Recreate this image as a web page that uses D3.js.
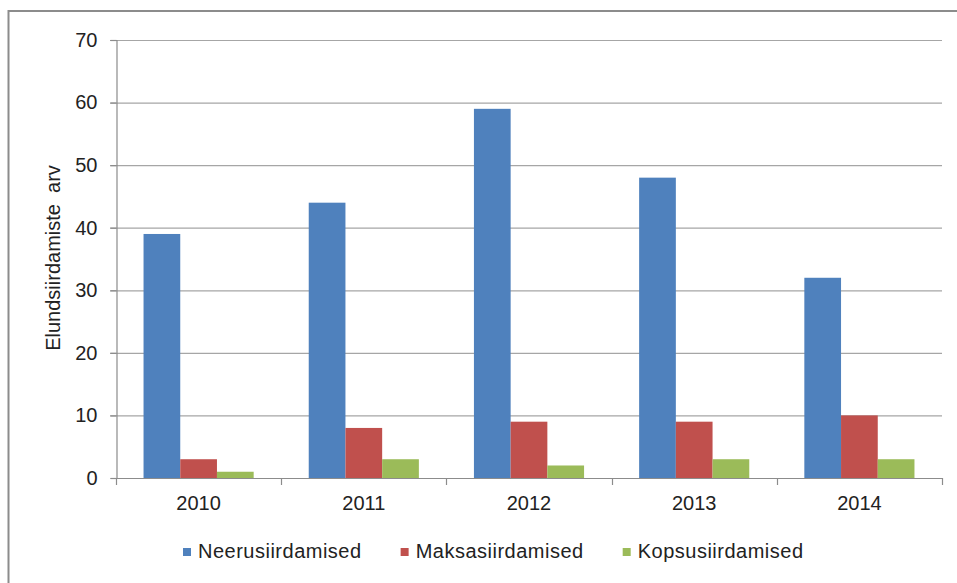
<!DOCTYPE html>
<html>
<head>
<meta charset="utf-8">
<script src="https://cdn.jsdelivr.net/npm/d3@7"></script>
<style>
  html, body { margin: 0; padding: 0; background: #fff; }
  svg { display: block; font-family: "Liberation Sans", Arial, sans-serif; }
</style>
</head>
<body>
<svg id="chart" width="957" height="583"></svg>
<script>
// data
const years = ["2010", "2011", "2012", "2013", "2014"];
const seriesNames = ["Neerusiirdamised", "Maksasiirdamised", "Kopsusiirdamised"];
const neerud = [39, 44, 59, 48, 32];
const maks = [3, 8, 9, 9, 10];
const kopsud = [1, 3, 2, 3, 3];
const yTicks = [0, 10, 20, 30, 40, 50, 60, 70];
const colors = ["#4F81BD", "#C0504D", "#9BBB59"];
const seriesValues = [neerud, maks, kopsud];

const svg = d3.select("#chart");
const plot = { left: 116, right: 942, top: 40, bottom: 478 };

// outer frame (cut off at right and bottom like the screenshot)
svg.append("rect")
    .attr("x", 8.5).attr("y", 11)
    .attr("width", 1000).attr("height", 1000)
    .attr("fill", "none").attr("stroke", "#8c8c8c").attr("stroke-width", 2);

const x = d3.scaleBand().domain(years).range([plot.left, plot.right]);
// gap width 150%: outer padding of 0.75 bar on each side
const x1 = d3.scaleBand().domain(d3.range(3))
    .range([0, x.bandwidth()]).paddingOuter(0.75).paddingInner(0);
const y = d3.scaleLinear().domain([0, 70]).range([plot.bottom, plot.top]);

// gridlines
svg.append("g")
    .selectAll("line")
    .data(yTicks.filter(d => d > 0))
    .join("line")
    .attr("x1", plot.left - 6).attr("x2", plot.right)
    .attr("y1", d => y(d) + 0.5).attr("y2", d => y(d) + 0.5)
    .attr("stroke", "#a6a6a6").attr("stroke-width", 1.2);

// y axis
const yAxis = svg.append("g")
    .attr("transform", `translate(${plot.left + 0.5},0)`)
    .call(d3.axisLeft(y).tickValues(yTicks).tickSize(6).tickPadding(13));
yAxis.select(".domain").attr("stroke", "#8c8c8c").attr("stroke-width", 1.2);
yAxis.selectAll(".tick line").attr("stroke", "#8c8c8c").attr("stroke-width", 1.2);
yAxis.selectAll(".tick text")
    .attr("font-size", 20).attr("fill", "#222")
    .attr("font-family", "Liberation Sans, Arial, sans-serif");

// bars
const groups = svg.append("g")
    .selectAll("g")
    .data(years)
    .join("g")
    .attr("transform", d => `translate(${x(d)},0)`);

groups.selectAll("rect")
    .data((d, i) => seriesValues.map((s, k) => ({ k, v: s[i] })))
    .join("rect")
    .attr("x", d => x1(d.k))
    .attr("width", x1.bandwidth())
    .attr("y", d => y(d.v))
    .attr("height", d => y(0) - y(d.v))
    .attr("fill", d => colors[d.k]);

// x axis
const xAxis = svg.append("g")
    .attr("transform", `translate(0,${plot.bottom + 0.5})`)
    .call(d3.axisBottom(x).tickSize(0).tickPadding(17));
xAxis.select(".domain").remove();
xAxis.selectAll(".tick text")
    .attr("font-size", 20).attr("fill", "#222")
    .attr("font-family", "Liberation Sans, Arial, sans-serif");
svg.append("line")
    .attr("x1", plot.left).attr("x2", plot.right + 0.5)
    .attr("y1", plot.bottom + 0.5).attr("y2", plot.bottom + 0.5)
    .attr("stroke", "#8c8c8c").attr("stroke-width", 1.2);
svg.append("g")
    .selectAll("line")
    .data(years.map(d => x(d)).concat([plot.right]))
    .join("line")
    .attr("x1", d => Math.round(d) + 0.5).attr("x2", d => Math.round(d) + 0.5)
    .attr("y1", plot.bottom).attr("y2", plot.bottom + 7)
    .attr("stroke", "#8c8c8c").attr("stroke-width", 1.2);

// y axis title
svg.append("text")
    .attr("transform", "translate(60,258) rotate(-90)")
    .attr("text-anchor", "middle")
    .attr("font-size", 20).attr("fill", "#222")
    .style("white-space", "pre")
    .text("Elundsiirdamiste  arv");

// legend
const legend = svg.append("g").attr("transform", "translate(183,558)");
let lx = 0;
seriesNames.forEach((name, k) => {
    const item = legend.append("g").attr("transform", `translate(${lx},0)`);
    item.append("rect")
        .attr("x", 0).attr("y", -10)
        .attr("width", 8).attr("height", 8)
        .attr("fill", colors[k]);
    const t = item.append("text")
        .attr("x", 15).attr("y", 0)
        .attr("font-size", 20).attr("fill", "#222")
        .attr("letter-spacing", 0.5)
        .text(name);
    lx += 15 + t.node().getComputedTextLength() + 39;
});
</script>
</body>
</html>
